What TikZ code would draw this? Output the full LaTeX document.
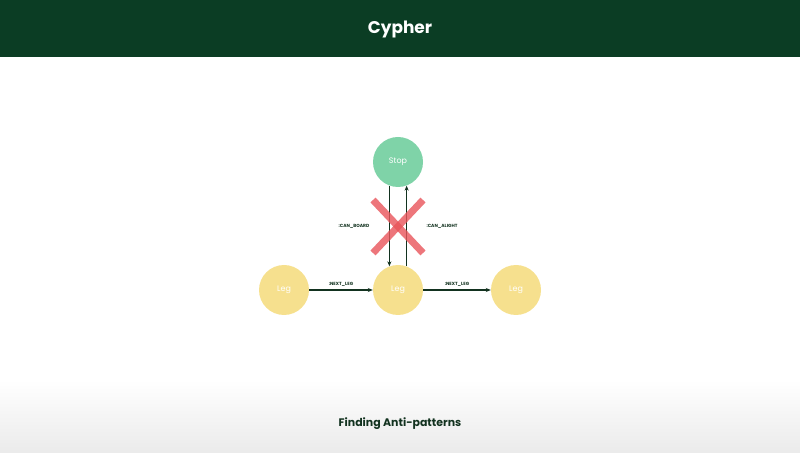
\documentclass[tikz,border=0pt]{standalone}
\usepackage{fontspec}
\setmainfont{Poppins}
\usetikzlibrary{arrows.meta,positioning}
\definecolor{headgreen}{HTML}{0B3D24}
\definecolor{stopgreen}{HTML}{7FD3A8}
\definecolor{legyellow}{HTML}{F6E08E}
\definecolor{edgegreen}{HTML}{12321F}
\definecolor{crossred}{HTML}{E8545A}
\tikzset{
  stopnode/.style={circle,minimum size=50bp,inner sep=0pt,fill=stopgreen,text=white,font=\fontsize{8}{9}\selectfont},
  legnode/.style={circle,minimum size=50bp,inner sep=0pt,fill=legyellow,text=white,font=\fontsize{8}{9}\selectfont},
  rel/.style={-{Stealth[length=5bp,width=4bp]},line width=1.1bp,draw=edgegreen},
  rellabel/.style={font=\fontsize{4.5}{5}\selectfont\bfseries,text=edgegreen,inner sep=1bp}
}
\begin{document}
\begin{tikzpicture}[x=1bp,y=-1bp]
\useasboundingbox (0,0) rectangle (800,453);
\shade[top color=white,bottom color=black!8] (0,380) rectangle (800,453);
\fill[headgreen] (0,0) rectangle (800,57);
\node[text=white,font=\fontsize{17}{20}\selectfont\bfseries] (title) at (400,29) {Cypher};
\node[text=edgegreen,font=\fontsize{11}{13}\selectfont\bfseries] (footer) at (400,424) {Finding Anti-patterns};

\node (Stop) at (398,162)[stopnode] {Stop};
\node (L1) at (284,290)[legnode] {Leg};
\node (L2) at (398,290)[legnode] {Leg};
\node (L3) at (516,290)[legnode] {Leg};

\draw [rel] (Stop.250) to (L2.110);
\draw [rel] (L2.70) to (Stop.290);
\draw [rel] (L1) to node[rellabel,above=2bp] {:NEXT\_LEG} (L2);
\draw [rel] (L2) to node[rellabel,above=2bp] {:NEXT\_LEG} (L3);
\node[rellabel] (board) at (354,226) {:CAN\_BOARD};
\node[rellabel] (alight) at (442,226) {:CAN\_ALIGHT};

\draw [crossred,opacity=0.8,line width=7bp] (373,200) -- (423,253);
\draw [crossred,opacity=0.8,line width=7bp] (423,200) -- (373,253);
\end{tikzpicture}
\end{document}
